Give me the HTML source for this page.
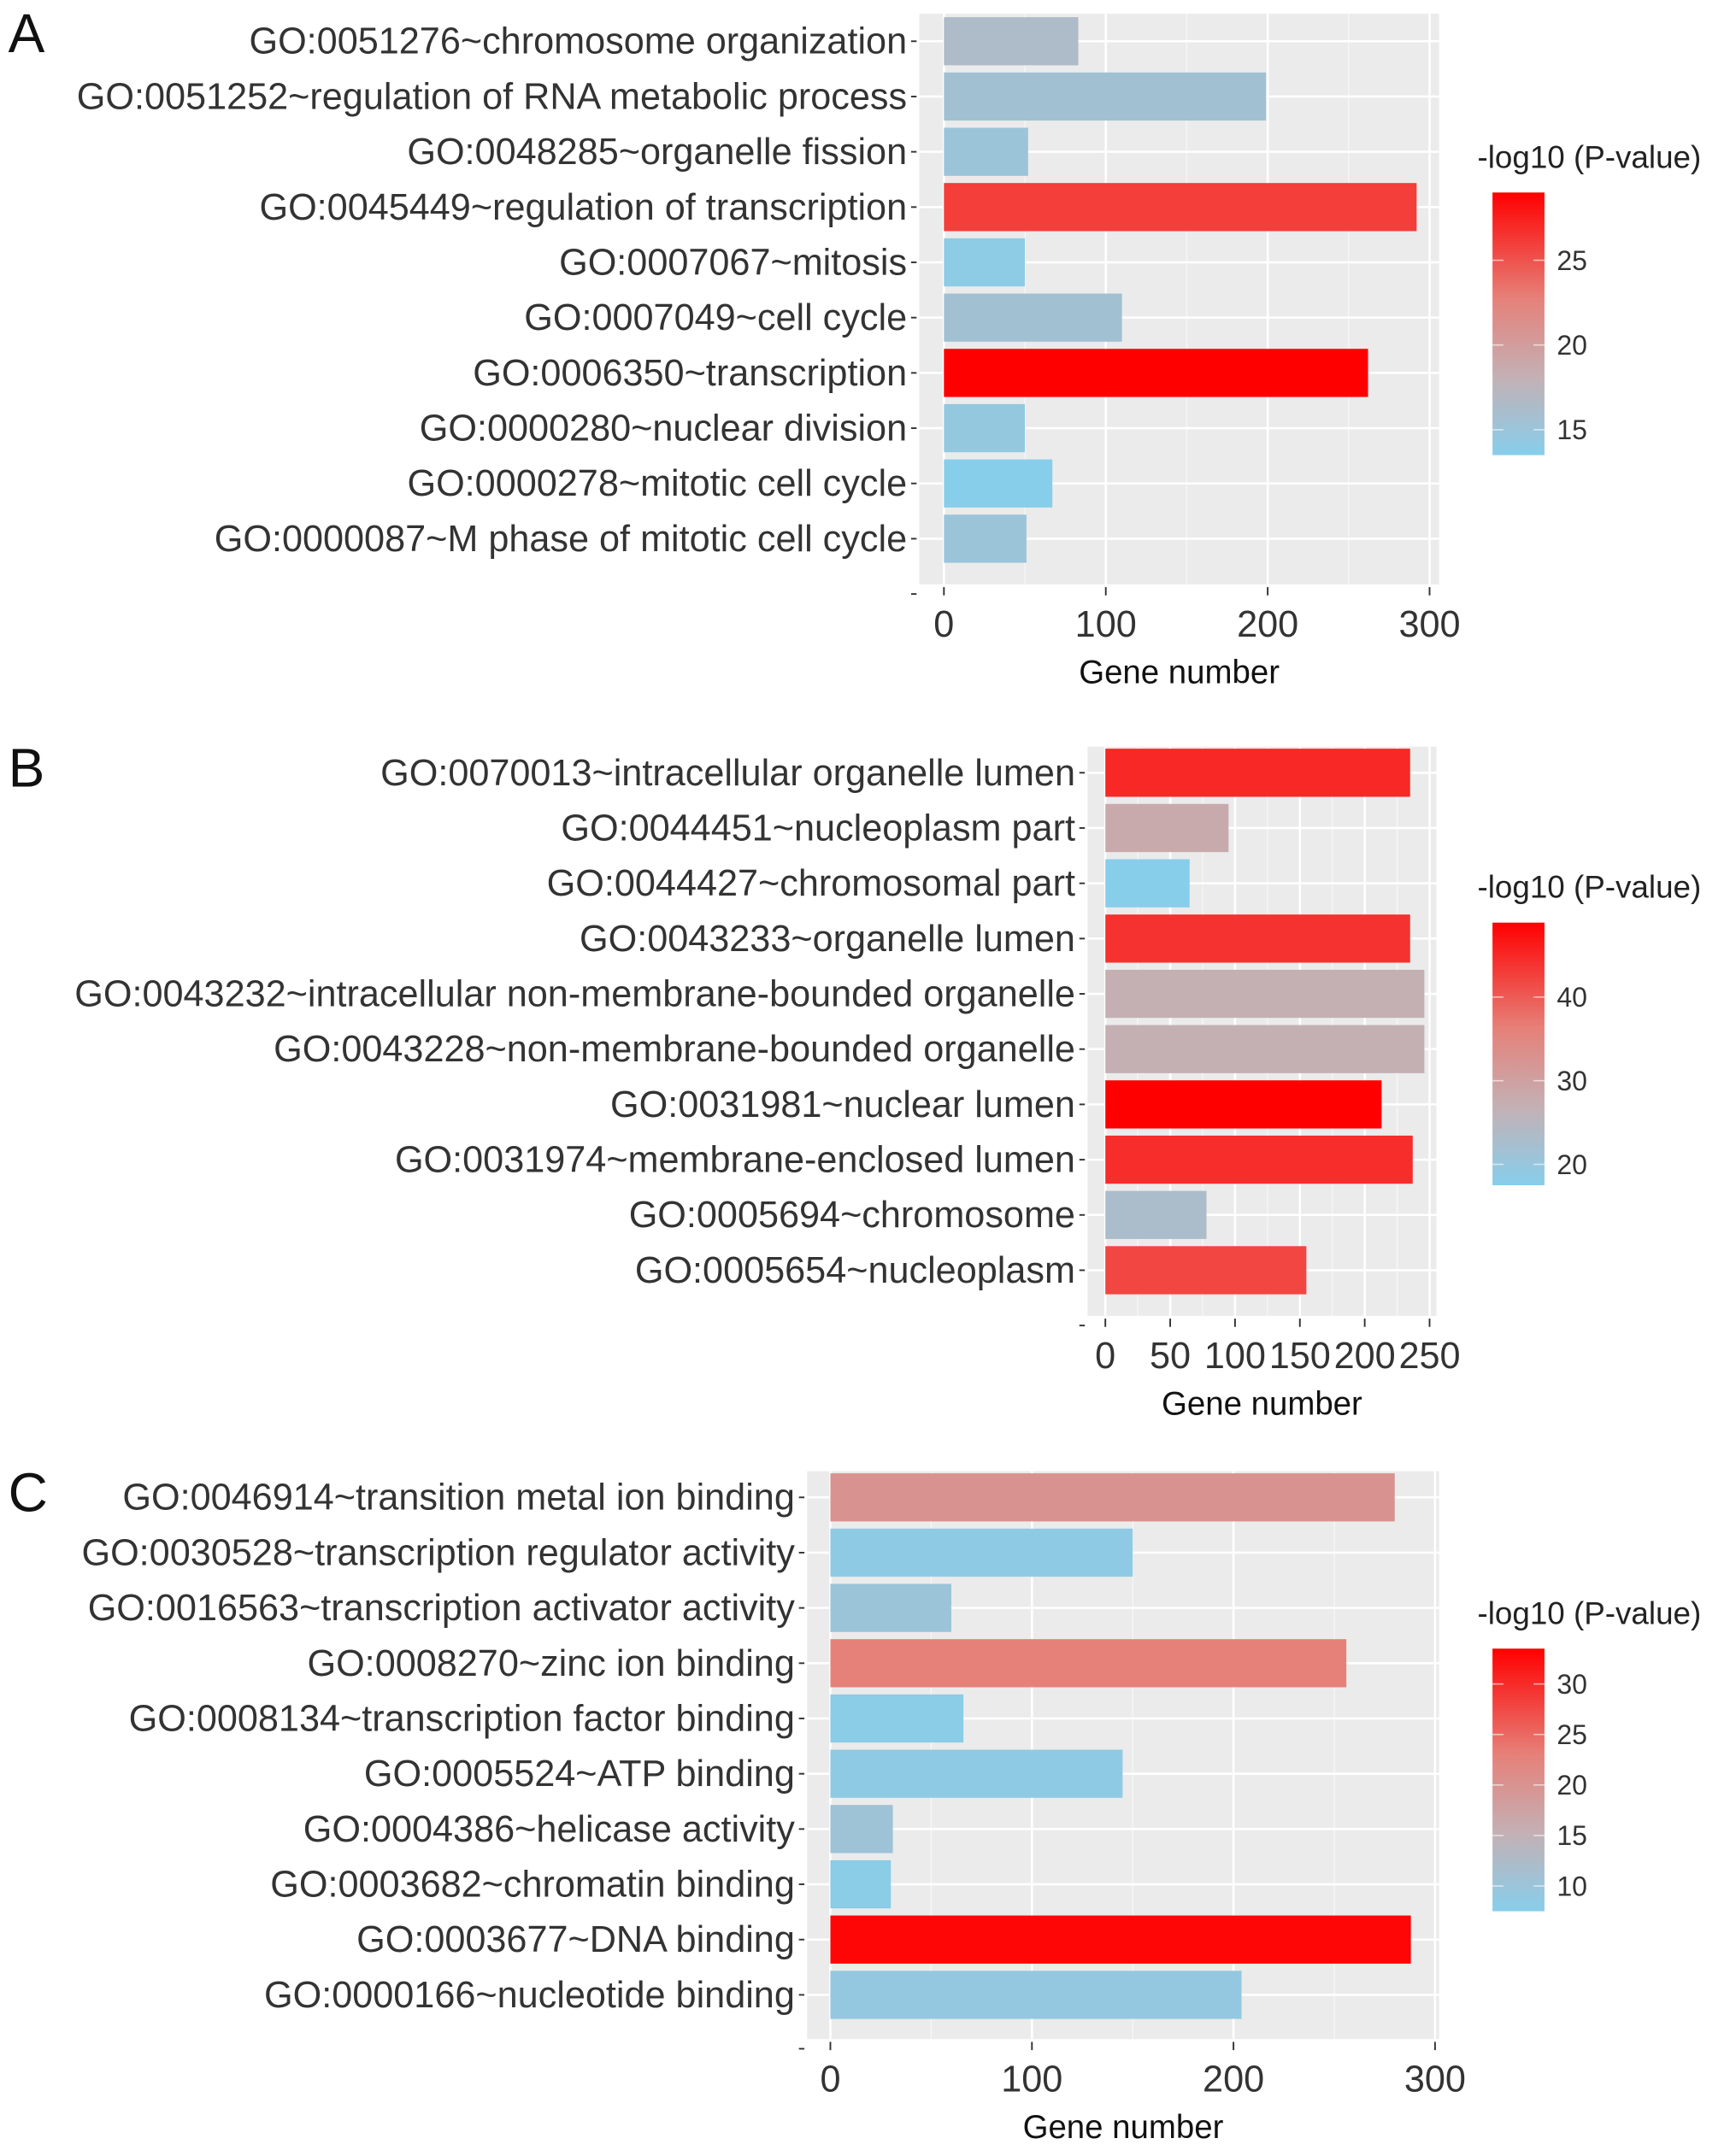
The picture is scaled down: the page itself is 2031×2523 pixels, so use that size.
<!DOCTYPE html>
<html><head><meta charset="utf-8"><style>
html,body{margin:0;padding:0;background:#fff;}
svg{display:block;font-family:"Liberation Sans",Arial,sans-serif;}
</style></head><body>
<svg id="fig" width="2031" height="2523" viewBox="0 0 1269 1568" preserveAspectRatio="none" xmlns="http://www.w3.org/2000/svg">
<defs>
<linearGradient id="cg" x1="0" y1="1" x2="0" y2="0">
<stop offset="0" stop-color="#87ceeb"/><stop offset="0.3" stop-color="#c4b0b4"/><stop offset="0.6" stop-color="#e68078"/><stop offset="1" stop-color="#ff0000"/>
</linearGradient>
</defs>
</svg>
<script>
// Panel A data
const catsA=["GO:0051276~chromosome organization","GO:0051252~regulation of RNA metabolic process","GO:0048285~organelle fission","GO:0045449~regulation of transcription","GO:0007067~mitosis","GO:0007049~cell cycle","GO:0006350~transcription","GO:0000280~nuclear division","GO:0000278~mitotic cell cycle","GO:0000087~M phase of mitotic cell cycle"];
const countsA=[83,199,52,292,50,110,262,50,67,51];
const pvalsA=[16.5,15.5,15,26,14,15.5,29,14.5,13.5,15];
const xticksA=[0,100,200,300];
const legendTicksA=[15,20,25];
// Panel B data
const catsB=["GO:0070013~intracellular organelle lumen","GO:0044451~nucleoplasm part","GO:0044427~chromosomal part","GO:0043233~organelle lumen","GO:0043232~intracellular non-membrane-bounded organelle","GO:0043228~non-membrane-bounded organelle","GO:0031981~nuclear lumen","GO:0031974~membrane-enclosed lumen","GO:0005694~chromosome","GO:0005654~nucleoplasm"];
const countsB=[235,95,65,235,246,246,213,237,78,155];
const pvalsB=[45,28,17.5,44,27,27,48.9,44.5,23,42];
const xticksB=[0,50,100,150,200,250];
const legendTicksB=[20,30,40];
// Panel C data
const catsC=["GO:0046914~transition metal ion binding","GO:0030528~transcription regulator activity","GO:0016563~transcription activator activity","GO:0008270~zinc ion binding","GO:0008134~transcription factor binding","GO:0005524~ATP binding","GO:0004386~helicase activity","GO:0003682~chromatin binding","GO:0003677~DNA binding","GO:0000166~nucleotide binding"];
const countsC=[280,150,60,256,66,145,31,30,288,204];
const pvalsC=[20,8.5,10,23,8,8.5,10.5,8,33,9];
const xticksC=[0,100,200,300];
const legendTicksC=[10,15,20,25,30];

const NS="http://www.w3.org/2000/svg";
const svg=document.getElementById('fig');
function mk(tag,attrs,parent){const e=document.createElementNS(NS,tag);for(const k in attrs)e.setAttribute(k,attrs[k]);(parent||svg).appendChild(e);return e;}
const stops=[[0,[135,206,235]],[0.3,[196,176,180]],[0.6,[230,128,120]],[1,[255,0,0]]];
function colorAt(t){t=Math.max(0,Math.min(1,t));for(let i=1;i<stops.length;i++){if(t<=stops[i][0]){const a=stops[i-1],b=stops[i];const f=(t-a[0])/(b[0]-a[0]);const c=a[1].map((v,j)=>Math.round(v+(b[1][j]-v)*f));return `rgb(${c})`;}}return 'rgb(255,0,0)';}

function panel(cfg){
  const g=mk('g',{});
  
  
  const xs=v=>cfg.x0+(v-0)*(cfg.x1-cfg.x0)/cfg.xmax;
  const ys=i=>cfg.yTop+i*cfg.step;
  const bg=mk('rect',{x:cfg.px,y:cfg.py0,width:cfg.px2-cfg.px,height:cfg.py1-cfg.py0,fill:'#ebebeb'},g);
  
  
  for(let k=0;k<cfg.xticks.length;k++){
    const v=cfg.xticks[k];
    mk('line',{x1:xs(v),x2:xs(v),y1:cfg.py0,y2:cfg.py1,stroke:'#fff','stroke-width':1.6},g);
    if(k<cfg.xticks.length-1){const m=(v+cfg.xticks[k+1])/2;mk('line',{x1:xs(m),x2:xs(m),y1:cfg.py0,y2:cfg.py1,stroke:'#f7f7f7','stroke-width':0.8},g);}
  }
  cfg.cats.forEach((c,i)=>{mk('line',{x1:cfg.px,x2:cfg.px2,y1:ys(i),y2:ys(i),stroke:'#fff','stroke-width':1.6},g);});
  cfg.cats.forEach((c,i)=>{
    const r=mk('rect',{x:xs(0),y:ys(i)-17.5,width:xs(cfg.counts[i])-xs(0),height:35,fill:colorAt((cfg.pvals[i]-cfg.pmin)/(cfg.pmax-cfg.pmin))},g);
    
    
    const t=mk('text',{x:cfg.px-9,y:ys(i)+9,'text-anchor':'end','font-size':27,fill:'#333'},g);
    t.textContent=c;
    
    
    mk('line',{x1:cfg.px-6,x2:cfg.px-2,y1:ys(i),y2:ys(i),stroke:'#333','stroke-width':1.2},g);
  });
  mk('line',{x1:cfg.px-6,x2:cfg.px-2,y1:cfg.py1+7,y2:cfg.py1+7,stroke:'#333','stroke-width':1.2},g);
  cfg.xticks.forEach(v=>{
    mk('line',{x1:xs(v),x2:xs(v),y1:cfg.py1+2,y2:cfg.py1+8,stroke:'#333','stroke-width':1.2},g);
    const t=mk('text',{x:xs(v),y:cfg.py1+38,'text-anchor':'middle','font-size':27,fill:'#333'},g);
    t.textContent=v;
    
    
  });
  const xl=mk('text',{x:(cfg.px+cfg.px2)/2,y:cfg.py1+72,'text-anchor':'middle','font-size':24,fill:'#111'},g);
  xl.textContent='Gene number';
  
  
  const pl=mk('text',{x:6,y:cfg.letterY,'font-size':40,fill:'#111'},g);
  pl.textContent=cfg.letter;
  
  
  const lt=mk('text',{x:1080,y:cfg.legY,'font-size':23,fill:'#222'},g);
  lt.textContent='-log10 (P-value)';
  
  
  const cb=mk('rect',{x:1091,y:cfg.legY+18,width:38,height:191,fill:'url(#cg)'},g);
  
  
  const cy=v=>cfg.legY+18+191-(v-cfg.pmin)/(cfg.pmax-cfg.pmin)*191;
  cfg.lticks.forEach(v=>{
    mk('line',{x1:1091,x2:1099,y1:cy(v),y2:cy(v),stroke:'#fff','stroke-opacity':0.6,'stroke-width':1},g);
    mk('line',{x1:1121,x2:1129,y1:cy(v),y2:cy(v),stroke:'#fff','stroke-opacity':0.6,'stroke-width':1},g);
    const t=mk('text',{x:1138,y:cy(v)+7,'font-size':20,fill:'#333'},g);
    t.textContent=v;
    
    
  });
}
panel({name:'panel-a',letter:'A',letterY:38,cats:catsA,counts:countsA,pvals:pvalsA,xticks:xticksA,lticks:legendTicksA,xmax:300,x0:690,x1:1045,px:672,px2:1052,py0:10,py1:425,yTop:30,step:40.2,pmin:13.5,pmax:29,legY:122});
panel({name:'panel-b',letter:'B',letterY:572,cats:catsB,counts:countsB,pvals:pvalsB,xticks:xticksB,lticks:legendTicksB,xmax:250,x0:808,x1:1045,px:795,px2:1050,py0:543,py1:957,yTop:562,step:40.2,pmin:17.5,pmax:48.9,legY:653});
panel({name:'panel-c',letter:'C',letterY:1099,cats:catsC,counts:countsC,pvals:pvalsC,xticks:xticksC,lticks:legendTicksC,xmax:300,x0:607,x1:1049,px:590,px2:1052,py0:1070,py1:1483,yTop:1089,step:40.2,pmin:7.5,pmax:33.5,legY:1181});
</script>
</body></html>
